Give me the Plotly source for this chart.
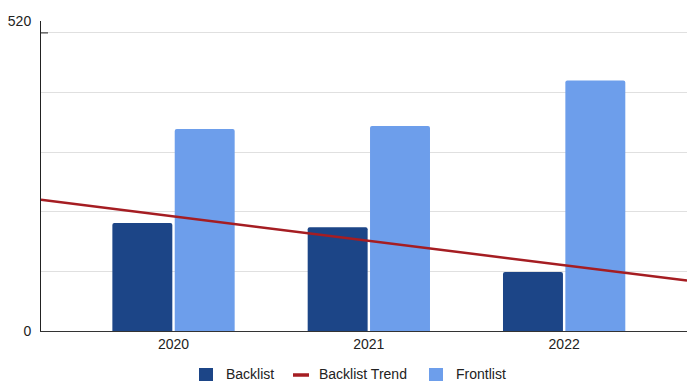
import numpy as np
import plotly.graph_objects as go

years = ["2020", "2021", "2022"]
backlist = [181, 174, 99]
frontlist = [339, 344, 420]
y_max = 520
y_gridvals = [0, 100, 200, 300, 400, 500, 520]
y_ticktext = ["0", "", "", "", "", "", "520"]
series_names = ["Backlist", "Backlist Trend", "Frontlist"]

BACK_COLOR = "#1c4587"
FRONT_COLOR = "#6d9eeb"
TREND_COLOR = "#a51d22"
FONT = "Liberation Sans, Arial, sans-serif"

W, H = 687, 381
ML, MR, MT, MB = 41, 0, 21, 50
PW, PH = W - ML - MR, H - MT - MB


def px_x(px):
    return (px - ML) / PW


def px_y(py):
    return (H - MB - py) / PH


idx = np.arange(len(years))
x_range = [-0.6785, 2.629]

# least-squares trend through the backlist values
slope, intercept = np.polyfit(idx, backlist, 1)
trend_x = np.array(x_range)
trend_y = intercept + slope * trend_x

fig = go.Figure()
fig.add_trace(go.Bar(
    x=idx, y=backlist, name=series_names[0],
    marker=dict(color=BACK_COLOR, line=dict(width=0)),
))
fig.add_trace(go.Scatter(
    x=trend_x, y=trend_y, mode="lines", name=series_names[1],
    line=dict(color=TREND_COLOR, width=2.5),
))
fig.add_trace(go.Bar(
    x=idx, y=frontlist, name=series_names[2],
    marker=dict(color=FRONT_COLOR, line=dict(width=0)),
))

fig.update_layout(
    width=W, height=H,
    margin=dict(l=ML, r=MR, t=MT, b=MB, autoexpand=False),
    paper_bgcolor="white", plot_bgcolor="white",
    barmode="group", bargap=0.3615, bargroupgap=0.0385,
    barcornerradius=2,
    font=dict(family=FONT, size=14, color="#222222"),
    showlegend=False,
    xaxis=dict(
        range=x_range, tickmode="array", tickvals=idx, ticktext=years,
        showgrid=False, zeroline=False, showline=True,
        linecolor="#333333", linewidth=1, ticks="",
    ),
    yaxis=dict(
        range=[0, y_max], tickmode="array", tickvals=y_gridvals,
        ticktext=y_ticktext, showgrid=True, gridcolor="#e0e0e0",
        gridwidth=1, zeroline=False, showline=True,
        linecolor="#222222", linewidth=1, ticks="",
        ticklabelstandoff=6,
    ),
)

# short dark tick mark on the 500 gridline
fig.add_shape(
    type="line", xref="paper", yref="y",
    x0=0, x1=7 / PW, y0=500, y1=500,
    line=dict(color="#222222", width=1),
)

# legend row below the axis: swatch, then label
legend_y = 374
legend_items = [
    ("box", BACK_COLOR, 199, 213, 224),
    ("line", TREND_COLOR, 293, 309, 317),
    ("box", FRONT_COLOR, 429, 443, 454),
]
for (kind, color, sx0, sx1, tx), name in zip(legend_items, series_names):
    if kind == "box":
        fig.add_shape(
            type="rect", xref="paper", yref="paper",
            x0=px_x(sx0), x1=px_x(sx1),
            y0=px_y(legend_y + 7), y1=px_y(legend_y - 6),
            fillcolor=color, line=dict(width=0), layer="above",
        )
    else:
        fig.add_shape(
            type="line", xref="paper", yref="paper",
            x0=px_x(sx0), x1=px_x(sx1),
            y0=px_y(legend_y + 1), y1=px_y(legend_y + 1),
            line=dict(color=color, width=3.5), layer="above",
        )
    fig.add_annotation(
        xref="paper", yref="paper", x=px_x(tx), y=px_y(legend_y),
        xanchor="left", yanchor="middle", showarrow=False,
        text=name, font=dict(size=14, color="#222222"),
    )

fig.write_html("out.html")
